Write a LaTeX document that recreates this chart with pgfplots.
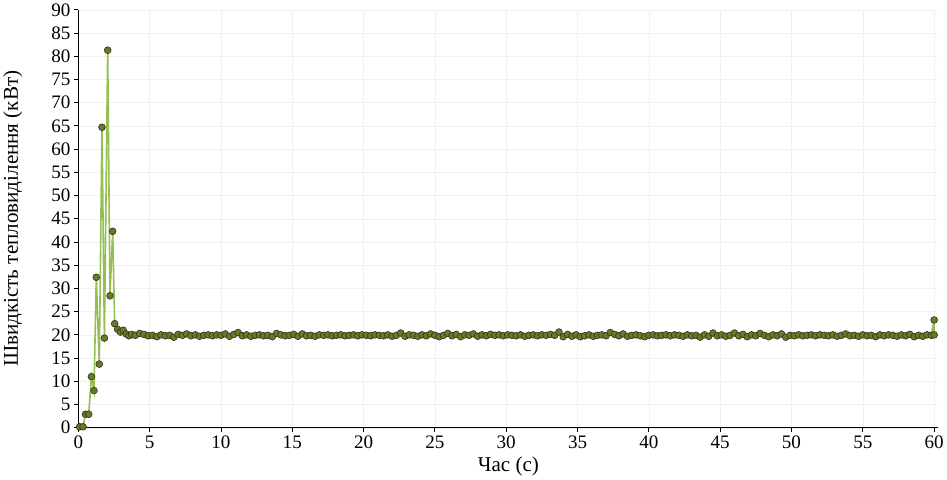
\documentclass[border=0pt]{standalone}
\usepackage{pgfplots}
\pgfplotsset{compat=1.18}
\usepackage{fontspec}
\setmainfont{Liberation Serif}
\definecolor{ln}{RGB}{150,190,85}
\definecolor{mk}{RGB}{105,120,45}
\definecolor{md}{RGB}{45,55,20}
\begin{document}
\begin{tikzpicture}
\begin{axis}[scale only axis, width=854bp, height=415bp,
 xmin=0, xmax=60.3, ymin=0, ymax=90,
 xtick={0,5,...,60}, ytick={0,5,...,90},
 axis lines=left, axis line style={thick,-}, tick style={black,thick}, tick align=outside,
 grid=major, grid style={gray!12},
 /pgf/number format/assume math mode=true,
 ticklabel style={font=\fontsize{19}{19}\selectfont},
 xlabel={Час (с)}, ylabel={Швидкість тепловиділення (кВт)},
 label style={font=\fontsize{21}{21}\selectfont},
 ylabel style={yshift=22pt}, xlabel style={yshift=-2pt}]
\addplot[color=ln, line width=1.6pt, mark=*, mark size=3.4pt,
 mark options={fill=mk, draw=md, line width=0.6pt}] coordinates {
(0.09,0.2)(0.33,0.2)(0.5,2.9)(0.73,2.9)(0.92,11)(1.1,8)(1.26,32.4)(1.47,13.7)(1.66,64.7)(1.83,19.3)(2.06,81.3)(2.22,28.4)(2.41,42.3)(2.55,22.4)(2.75,21.2)(2.95,20.6)(3.15,21)(3.35,20.2)(3.55,19.8)(3.75,20.1)(4.0,19.9)(4.3,20.3)(4.6,20.1)(4.9,19.8)(5.2,19.9)(5.5,19.6)(5.8,20)(6.1,19.8)(6.4,19.9)(6.7,19.5)(7.0,20.1)(7.3,19.9)(7.6,20.2)(7.9,19.8)(8.2,20)(8.5,19.7)(8.8,19.9)(9.1,20)(9.4,19.8)(9.7,20)(10.0,19.9)(10.3,20.2)(10.6,19.7)(10.9,20.1)(11.2,20.5)(11.5,19.8)(11.8,20)(12.1,19.7)(12.4,19.9)(12.7,20)(13.0,19.8)(13.3,19.9)(13.6,19.6)(13.9,20.3)(14.2,20)(14.5,19.8)(14.8,19.9)(15.1,20.1)(15.4,19.7)(15.7,20.2)(16.0,19.8)(16.3,19.9)(16.6,19.7)(16.9,20)(17.2,19.9)(17.5,20)(17.8,19.8)(18.1,19.9)(18.4,20)(18.7,19.8)(19.0,19.9)(19.3,20)(19.6,19.8)(19.9,20)(20.2,19.9)(20.5,19.8)(20.8,20)(21.1,19.9)(21.4,19.8)(21.7,20)(22.0,19.7)(22.3,19.9)(22.6,20.4)(22.9,19.7)(23.2,20)(23.5,19.9)(23.8,19.7)(24.1,20)(24.4,19.8)(24.7,20.2)(25.0,19.9)(25.3,19.6)(25.6,19.9)(25.9,20.3)(26.2,19.8)(26.5,20.1)(26.8,19.6)(27.1,20)(27.4,19.9)(27.7,20.2)(28.0,19.7)(28.3,20)(28.6,19.8)(28.9,20.1)(29.2,19.9)(29.5,20)(29.8,19.8)(30.1,20)(30.4,19.9)(30.7,19.8)(31.0,20)(31.3,19.7)(31.6,19.9)(31.9,20)(32.2,19.8)(32.5,20)(32.8,19.9)(33.1,20.1)(33.4,19.9)(33.7,20.6)(34.0,19.6)(34.3,20.1)(34.6,19.7)(34.9,20)(35.2,19.6)(35.5,19.8)(35.8,20)(36.1,19.7)(36.4,19.9)(36.7,20)(37.0,19.8)(37.3,20.5)(37.6,20.1)(37.9,19.8)(38.2,20.2)(38.5,19.7)(38.8,19.9)(39.1,20)(39.4,19.8)(39.7,19.6)(40.0,19.9)(40.3,20)(40.6,19.8)(40.9,19.9)(41.2,20)(41.5,19.8)(41.8,20)(42.1,19.9)(42.4,19.7)(42.7,20)(43.0,19.8)(43.3,19.9)(43.6,19.5)(43.9,20)(44.2,19.7)(44.5,20.4)(44.8,19.8)(45.1,20)(45.4,19.7)(45.7,19.9)(46.0,20.4)(46.3,19.8)(46.6,20.1)(46.9,19.6)(47.2,20)(47.5,19.8)(47.8,20.3)(48.1,19.9)(48.4,19.6)(48.7,20)(49.0,19.8)(49.3,20.2)(49.6,19.5)(49.9,19.9)(50.2,19.8)(50.5,20)(50.8,19.8)(51.1,19.9)(51.4,20)(51.7,19.8)(52.0,20)(52.3,19.9)(52.6,19.8)(52.9,20)(53.2,19.7)(53.5,19.9)(53.8,20.2)(54.1,19.8)(54.4,19.9)(54.7,19.7)(55.0,20)(55.3,19.8)(55.6,19.9)(55.9,19.6)(56.2,20)(56.5,19.8)(56.8,20)(57.1,19.9)(57.4,19.7)(57.7,20)(58.0,19.8)(58.3,20.1)(58.6,19.6)(58.9,19.9)(59.2,19.7)(59.5,20)(59.8,19.9)(60.0,23.2)(60.0,20)
};
\end{axis}
\end{tikzpicture}
\end{document}
